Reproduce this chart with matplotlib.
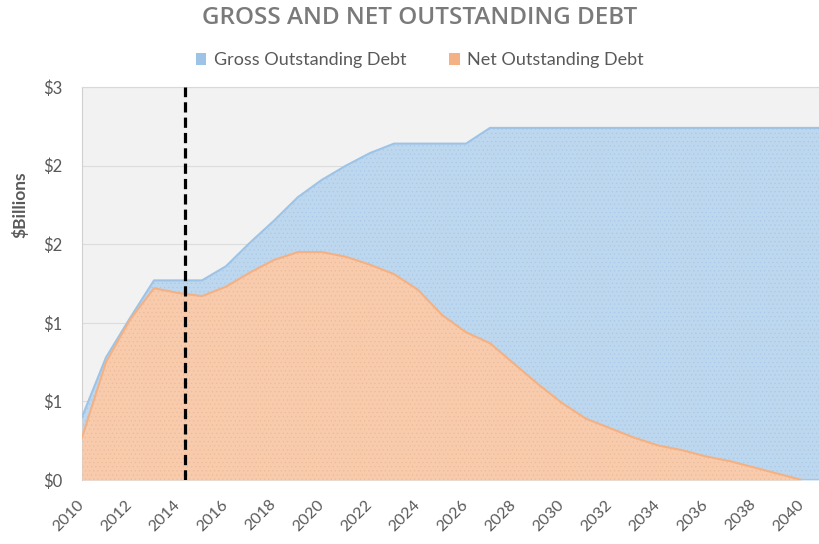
import matplotlib
matplotlib.use("Agg")
import matplotlib.pyplot as plt
from matplotlib.patches import Patch
from matplotlib.ticker import FuncFormatter

# outstanding debt by year, $ billions
years = list(range(2010, 2042))
gross_debt = [0.40, 0.78, 1.03, 1.27, 1.27, 1.27, 1.36, 1.51, 1.65, 1.80,
              1.91, 2.00, 2.08, 2.14, 2.14, 2.14, 2.14, 2.24, 2.24, 2.24,
              2.24, 2.24, 2.24, 2.24, 2.24, 2.24, 2.24, 2.24, 2.24, 2.24,
              2.24, 2.24]
net_debt = [0.27, 0.75, 1.02, 1.22, 1.19, 1.17, 1.23, 1.32, 1.40, 1.45,
            1.45, 1.42, 1.37, 1.31, 1.21, 1.05, 0.94, 0.87, 0.74, 0.61,
            0.49, 0.39, 0.33, 0.27, 0.22, 0.19, 0.15, 0.12, 0.08, 0.04,
            0.00, 0.00]
current_year = 2014.3
y_ticks = [0, 0.5, 1.0, 1.5, 2.0, 2.5]
x_ticks = list(range(2010, 2041, 2))

GREY = "#595959"
BLUE_FILL = "#BDD7EE"
BLUE_EDGE = "#9DC3E6"
ORANGE_FILL = "#F8CBAD"
ORANGE_EDGE = "#F4B183"

plt.rcParams["font.family"] = ["Lato", "DejaVu Sans"]
plt.rcParams["hatch.linewidth"] = 0.4

fig = plt.figure(figsize=(8.2, 5.44), dpi=100)
ax = fig.add_axes([0.1, 0.1176, 0.9, 0.7224])
ax.set_facecolor("#F2F2F2")

ax.fill_between(years, gross_debt, color=BLUE_FILL, lw=0, zorder=2)
ax.fill_between(years, gross_debt, facecolor="none", edgecolor="#A9C9E8",
                hatch="....", lw=0, zorder=2)
ax.plot(years, gross_debt, color=BLUE_EDGE, lw=1.5, zorder=3)

ax.fill_between(years, net_debt, color=ORANGE_FILL, lw=0, zorder=4)
ax.fill_between(years, net_debt, facecolor="none", edgecolor="#EDBB98",
                hatch="....", lw=0, zorder=4)
ax.plot(years, net_debt, color=ORANGE_EDGE, lw=1.5, zorder=5)

ax.axvline(current_year, color="black", lw=2.3, dashes=(3.2, 1.6), zorder=6)

ax.set_xlim(2010, 2040.75)
ax.set_ylim(0, 2.5)
ax.set_yticks(y_ticks)
ax.yaxis.set_major_formatter(FuncFormatter(lambda v, p: "$%d" % int(v + 0.5)))
ax.set_xticks(x_ticks)
ax.set_xticklabels([str(x) for x in x_ticks], rotation=45, ha="right",
                   va="center", rotation_mode="anchor")
ax.tick_params(length=0, colors=GREY, labelsize=11.5)
ax.tick_params(axis="x", pad=16)
ax.tick_params(axis="y", pad=14, labelsize=12)
ax.grid(axis="y", color="#DCDCDC", lw=0.8, zorder=1)
ax.set_axisbelow(True)
for side in ax.spines:
    ax.spines[side].set_visible(False)
ax.spines["top"].set_visible(True)
ax.spines["top"].set_color("#D9D9D9")
ax.spines["left"].set_visible(True)
ax.spines["left"].set_color("#CFCFCF")

ax.set_ylabel("$Billions", color=GREY, fontsize=12.5, fontweight="bold")
ax.yaxis.set_label_coords(-0.072, 0.70)

fig.text(0.512, 0.966, "GROSS AND NET OUTSTANDING DEBT", ha="center", va="center",
         fontsize=17.5, fontweight="semibold", color="#7A7A7A",
         family=["Open Sans", "DejaVu Sans"])

handles = [Patch(facecolor="#9DC3E6", edgecolor="none", label="Gross Outstanding Debt"),
           Patch(facecolor="#F4B183", edgecolor="none", label="Net Outstanding Debt")]
fig.legend(handles=handles, loc="center", bbox_to_anchor=(0.512, 0.889), ncol=2,
           frameon=False, fontsize=13, labelcolor=GREY, handlelength=0.6,
           handleheight=0.6, handletextpad=0.4, columnspacing=2.4)

fig.savefig("out.png", dpi=100)
